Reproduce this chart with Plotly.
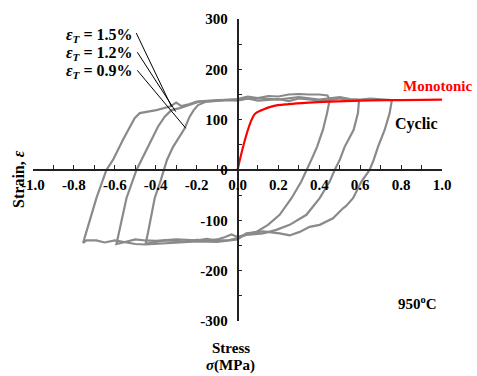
import plotly.graph_objects as go

# ---------------- data ----------------
mono_x = [0.0, 0.084, 0.12, 0.174, 0.25, 0.35, 0.45, 0.6, 0.8, 1.0]
mono_y = [0.0, 111, 119, 127, 131, 134, 136, 138, 139, 140]

# Loop for eps_T = 0.9% (smallest)
loopA_x = [0.451, 0.438, 0.418, 0.389, 0.361, 0.34, 0.312, 0.264, 0.206, 0.149, 0.092, 0.043, 0.0,
           -0.03, -0.06, -0.1, -0.15, -0.2, -0.25, -0.3, -0.35, -0.4, -0.449,
           -0.437, -0.405, -0.375, -0.361, -0.345, -0.315, -0.258, -0.234, -0.214, -0.193,
           -0.152, -0.1, -0.05, 0.0, 0.05, 0.1, 0.15, 0.2, 0.25, 0.3, 0.35, 0.4, 0.44, 0.451]
loopA_y = [140, 113, 80, 46, 20, 0, -23, -56, -89, -109, -123, -128, -133,
           -128, -133, -138, -140, -139, -143, -141, -140, -143, -146,
           -123, -56, -20, 0, 20, 46, 83, 106, 119, 129,
           136, 138, 140, 141, 146, 143, 147, 146, 150, 151, 150, 150, 148, 140]

# Loop for eps_T = 1.2%
loopB_x = [0.594, 0.589, 0.568, 0.524, 0.5, 0.475, 0.451, 0.402, 0.337, 0.255, 0.19, 0.125, 0.043, 0.0,
           -0.05, -0.1, -0.15, -0.2, -0.3, -0.4, -0.45, -0.5, -0.55, -0.592,
           -0.579, -0.543, -0.494, -0.47, -0.437, -0.389, -0.356, -0.323, -0.283, -0.234, -0.185,
           -0.12, -0.05, 0.0, 0.05, 0.1, 0.15, 0.2, 0.25, 0.3, 0.35, 0.4, 0.45, 0.5, 0.55, 0.594]
loopB_y = [138, 113, 80, 46, 20, 0, -23, -56, -89, -109, -119, -126, -129, -135,
           -140, -140, -137, -140, -138, -141, -140, -138, -143, -147,
           -123, -56, 0, 20, 46, 86, 106, 119, 123, 129, 136,
           137, 139, 138, 142, 138, 140, 141, 137, 142, 140, 138, 139, 142, 138, 138]

# Loop for eps_T = 1.5% (largest)
loopC_x = [0.755, 0.744, 0.72, 0.687, 0.666, 0.646, 0.606, 0.565, 0.53, 0.516, 0.467, 0.402, 0.353,
           0.304, 0.255, 0.206, 0.125, 0.043, 0.0,
           -0.1, -0.2, -0.3, -0.4, -0.45, -0.5, -0.55, -0.6, -0.65, -0.69, -0.739, -0.755,
           -0.739, -0.69, -0.641, -0.609, -0.56, -0.503, -0.478, -0.397, -0.33, -0.30, -0.274, -0.234, -0.2,
           -0.1, 0.0, 0.1, 0.2, 0.3, 0.4, 0.5, 0.55, 0.6, 0.65, 0.7, 0.755]
loopC_y = [139, 113, 80, 46, 20, 0, -23, -56, -72, -76, -96, -109, -113,
           -123, -130, -126, -122, -126, -138,
           -143, -142, -144, -146, -148, -147, -144, -140, -144, -140, -140, -145,
           -123, -56, 0, 20, 60, 103, 113, 119, 126, 134, 127, 131, 136,
           139, 140, 143, 140, 145, 140, 145, 141, 140, 142, 141, 139]

loop_labels = ["1.5%", "1.2%", "0.9%"]
label_x = [-0.503, -0.503, -0.503]
label_y = [268, 232, 195]
# leader lines: start (near label end) -> end (on curve)
leader_x0 = [-0.495, -0.490, -0.490]
leader_y0 = [272, 234, 198]
leader_x1 = [-0.323, -0.302, -0.253]
leader_y1 = [126, 116, 83]

x_ticks = [-1.0, -0.8, -0.6, -0.4, -0.2, 0.0, 0.2, 0.4, 0.6, 0.8, 1.0]
y_ticks = [-300, -200, -100, 0, 100, 200, 300]

FONT = "Liberation Serif"
GRAY = "#8a8a8a"

fig = go.Figure()
for lx, ly in [(loopA_x, loopA_y), (loopB_x, loopB_y), (loopC_x, loopC_y)]:
    fig.add_trace(go.Scatter(x=lx, y=ly, mode="lines",
                             line=dict(color=GRAY, width=2.2), showlegend=False,
                             hoverinfo="skip"))
fig.add_trace(go.Scatter(x=mono_x, y=mono_y, mode="lines", line_shape="spline",
                         line=dict(color="#ff0000", width=2.2), showlegend=False))

axis_common = dict(showline=True, linecolor="#222", linewidth=1.5, showgrid=False,
                   zeroline=False, ticks="inside", ticklen=4, tickwidth=1.2,
                   tickcolor="#222", anchor="free", position=0.5,
                   tickfont=dict(family=FONT, size=15, color="black", weight="bold"))

fig.update_layout(
    width=477, height=376,
    margin=dict(l=33, r=35, t=19, b=55),
    paper_bgcolor="white", plot_bgcolor="white",
    xaxis=dict(range=[-1.0, 1.0], tickvals=x_ticks,
               ticktext=[f"{v:.1f}" for v in x_ticks],
               minor=dict(dtick=0.1, ticks="inside", ticklen=4, tickcolor="#222"),
               ticklabelstandoff=1,
               **axis_common),
    yaxis=dict(range=[-300, 300], tickvals=y_ticks,
               ticktext=[str(v) for v in y_ticks],
               minor=dict(dtick=50, ticks="inside", ticklen=4, tickcolor="#222"),
               ticklabelstandoff=6,
               **axis_common),
    font=dict(family=FONT, color="black"),
)

# epsilon labels and leader lines
for t, x, y in zip(loop_labels, label_x, label_y):
    fig.add_annotation(x=x, y=y, xref="x", yref="y", xanchor="right", yanchor="middle",
                       text=f"<b><i>ε</i><sub><i>T</i></sub> = {t}</b>", showarrow=False,
                       font=dict(family=FONT, size=16, color="black"))
for x0, y0, x1, y1 in zip(leader_x0, leader_y0, leader_x1, leader_y1):
    fig.add_shape(type="line", x0=x0, y0=y0, x1=x1, y1=y1, xref="x", yref="y",
                  line=dict(color="black", width=1))

fig.add_annotation(x=0.80, y=167, xref="x", yref="y", xanchor="left", yanchor="middle",
                   text="<b>Monotonic</b>", showarrow=False,
                   font=dict(family=FONT, size=15, color="#ff0000"))
fig.add_annotation(x=0.76, y=91, xref="x", yref="y", xanchor="left", yanchor="middle",
                   text="<b>Cyclic</b>", showarrow=False,
                   font=dict(family=FONT, size=16, color="black"))
fig.add_annotation(x=0.777, y=-265, xref="x", yref="y", xanchor="left", yanchor="middle",
                   text="<b>950<sup>o</sup>C</b>", showarrow=False,
                   font=dict(family=FONT, size=15, color="black"))
# axis titles (paper coordinates: outside the data range)
fig.add_annotation(x=0.484, y=-0.089, xref="paper", yref="paper", xanchor="center", yanchor="middle",
                   text="<b>Stress</b>", showarrow=False,
                   font=dict(family=FONT, size=15, color="black"))
fig.add_annotation(x=0.482, y=-0.149, xref="paper", yref="paper", xanchor="center", yanchor="middle",
                   text="<b><i>σ</i>(MPa)</b>", showarrow=False,
                   font=dict(family=FONT, size=15, color="black"))
fig.add_annotation(x=-0.037, y=0.47, xref="paper", yref="paper", xanchor="center", yanchor="middle",
                   text="<b>Strain, <i>ε</i></b>", showarrow=False, textangle=-90,
                   font=dict(family=FONT, size=16, color="black"))

fig.write_html("out.html")
